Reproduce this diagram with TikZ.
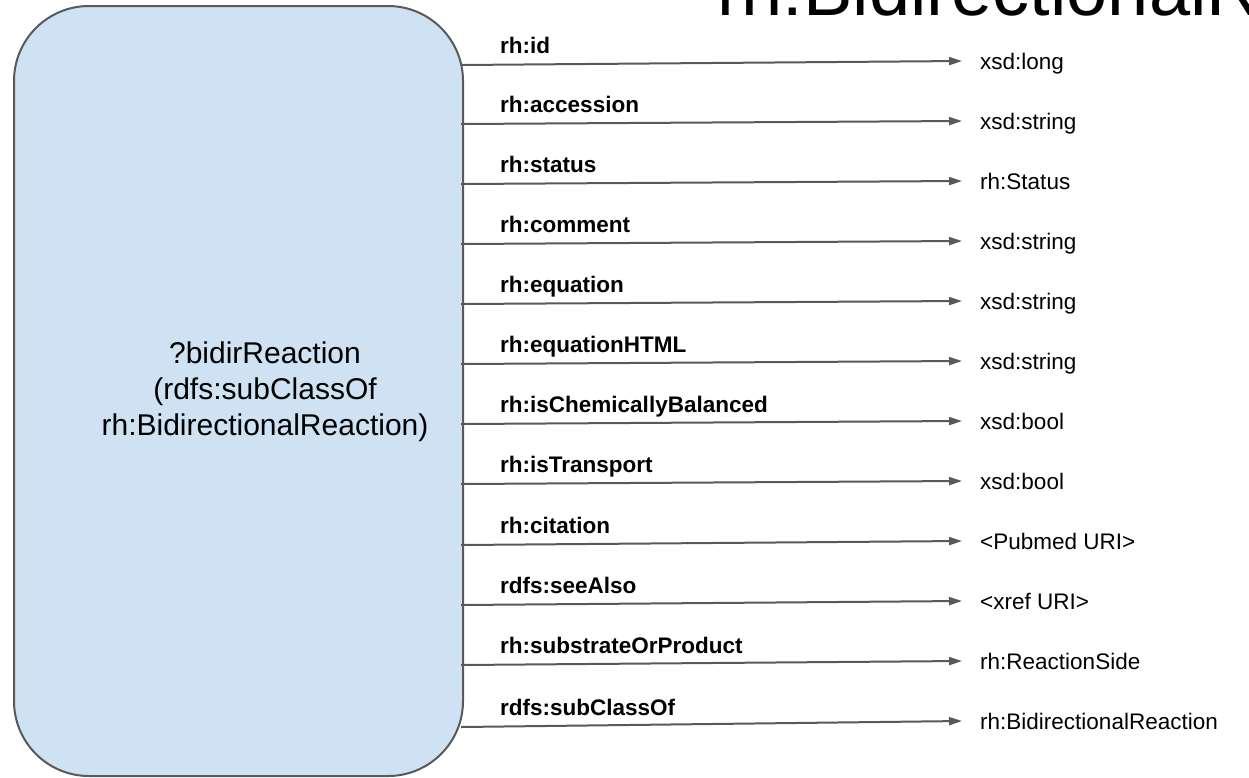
\documentclass[tikz,border=0pt]{standalone}
\usepackage{fontspec}
\setmainfont{Liberation Sans}
\usetikzlibrary{arrows.meta}
\definecolor{boxfill}{HTML}{CFE2F3}
\definecolor{edgec}{HTML}{595959}
\begin{document}
\begin{tikzpicture}[x=1pt,y=-1pt,
  cls/.style={draw=edgec,line width=2pt,fill=boxfill,rounded corners=75pt,minimum width=449pt,minimum height=770pt,inner sep=0pt},
  arr/.style={draw=edgec,line width=2pt,-{Triangle[length=13pt,width=8pt]}},
  prop/.style={font=\fontsize{22.5}{27}\selectfont\bfseries,anchor=base west,inner sep=0pt},
  rng/.style={font=\fontsize{22.5}{27}\selectfont,anchor=base west,inner ysep=0pt,inner xsep=18pt,yshift=-8pt},
  ttl/.style={font=\fontsize{74}{80}\selectfont,anchor=base west,inner sep=0pt},
  ctr/.style={font=\fontsize{30}{36}\selectfont,align=center,inner sep=0pt}
  ]
\clip (0,0) rectangle (1249,777);
\fill[white] (0,0) rectangle (1249,777);
\node[ttl] (title) at (717,15) {rh:BidirectionalReaction};
\node[cls] (bx) at (238.5,391) {};
\node[ctr] (lbl) at (265,392) {?bidirReaction\\(rdfs:subClassOf\\rh:BidirectionalReaction)};
\foreach \i/\p/\r/\o in {
  0/rh:id/xsd:long/4,
  1/rh:accession/xsd:string/3,
  2/rh:status/rh:Status/3,
  3/rh:comment/xsd:string/3,
  4/rh:equation/xsd:string/3,
  5/rh:equationHTML/xsd:string/3,
  6/rh:isChemicallyBalanced/xsd:bool/3,
  7/rh:isTransport/xsd:bool/3,
  8/rh:citation/<Pubmed URI>/4,
  9/rdfs:seeAlso/<xref URI>/4,
  10/rh:substrateOrProduct/rh:ReactionSide/4,
  11/rdfs:subClassOf/rh:BidirectionalReaction/6}{
  \pgfmathsetmacro{\ye}{61+60*\i}
  \pgfmathsetmacro{\ys}{\ye+\o}
  \coordinate (s\i) at (461,\ys);
  \coordinate (e\i) at (962,\ye);
  \node[prop] (p\i) at (500,\ys-12) {\p};
  \node[rng] (t\i) at (e\i) {\r};
  \draw[arr] (s\i) -- (e\i);
}
\end{tikzpicture}
\end{document}
